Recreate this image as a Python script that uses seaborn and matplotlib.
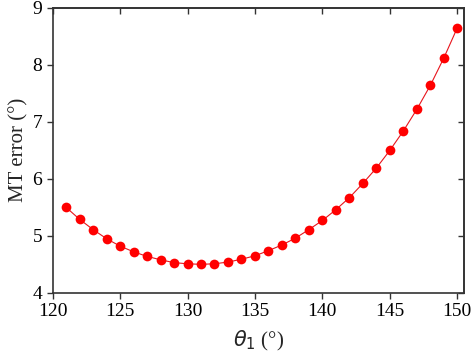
import numpy as np
import pandas as pd
import matplotlib
matplotlib.use("Agg")
import matplotlib.pyplot as plt
import seaborn as sns

# theta_1 values (deg) and corresponding MT error (deg)
theta1 = list(range(121, 151))
mt_error = [5.50, 5.29, 5.11, 4.95, 4.82, 4.72, 4.64, 4.58, 4.53, 4.51,
            4.50, 4.51, 4.54, 4.59, 4.65, 4.74, 4.84, 4.96, 5.11, 5.27,
            5.46, 5.67, 5.92, 6.19, 6.50, 6.84, 7.22, 7.64, 8.12, 8.65]

df = pd.DataFrame({"theta1": theta1, "mt_error": mt_error})

sns.set_style("ticks")
plt.rcParams["font.family"] = ["Liberation Serif", "DejaVu Serif"]
plt.rcParams["mathtext.fontset"] = "dejavusans"

fig = plt.figure(figsize=(4.74, 3.58), dpi=100)
ax = fig.add_axes([0.111, 0.182, 0.868, 0.796])

sns.lineplot(data=df, x="theta1", y="mt_error", ax=ax, color="#e8141c",
             linewidth=0.8, marker="o", markersize=7, markeredgewidth=0,
             markerfacecolor="#ff0000")

ax.set_xlim(120, 150.5)
ax.set_ylim(4, 9)
ax.set_xticks(range(120, 151, 5))
ax.set_yticks(range(4, 10))
ax.tick_params(axis="both", labelsize=14, direction="out", length=4,
               width=1, colors="#333333", labelcolor="black")
for spine in ax.spines.values():
    spine.set_visible(True)
    spine.set_linewidth(1.2)
    spine.set_color("#333333")

# inward ticks on the top and right sides
top = ax.secondary_xaxis("top")
top.set_xticks(range(120, 151, 5))
top.tick_params(direction="in", length=4, width=1, colors="#333333",
                labeltop=False)
right = ax.secondary_yaxis("right")
right.set_yticks(range(4, 10))
right.tick_params(direction="in", length=4, width=1, colors="#333333",
                  labelright=False)
for sec in (top, right):
    for spine in sec.spines.values():
        spine.set_linewidth(1.2)
        spine.set_color("#333333")

ax.set_xlabel(r"$\theta_1$ (°)", fontsize=15, labelpad=6)
ax.set_ylabel("MT error (°)", fontsize=15, labelpad=3)

fig.savefig("out.png", dpi=100)
